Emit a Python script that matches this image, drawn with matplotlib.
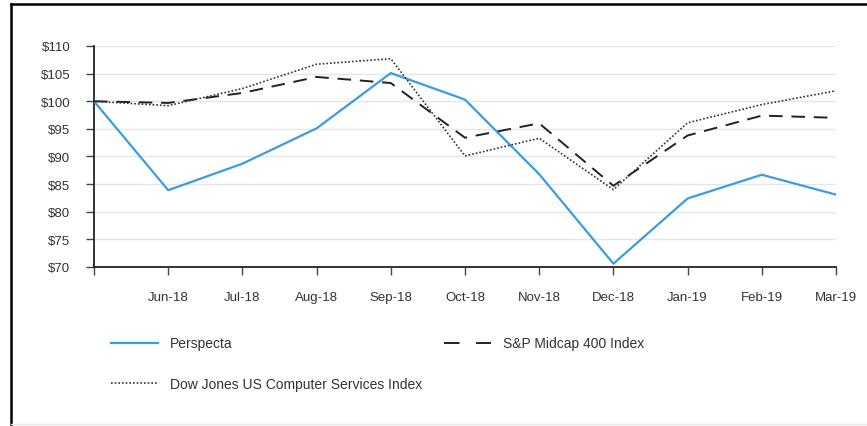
import matplotlib
matplotlib.use("Agg")
import matplotlib.pyplot as plt
from matplotlib.lines import Line2D

plt.rcParams['font.family'] = ['Liberation Sans', 'DejaVu Sans']

months = ["May-18", "Jun-18", "Jul-18", "Aug-18", "Sep-18", "Oct-18",
          "Nov-18", "Dec-18", "Jan-19", "Feb-19", "Mar-19"]
tick_labels = [""] + months[1:]
perspecta = [100, 83.9, 88.7, 95.1, 105.1, 100.3, 86.8, 70.6, 82.4, 86.7, 83.1]
sp_midcap = [100, 99.7, 101.5, 104.4, 103.3, 93.4, 96.0, 84.7, 93.8, 97.4, 97.0]
dow_jones = [100, 99.2, 102.3, 106.7, 107.7, 90.1, 93.3, 84.0, 96.1, 99.4, 101.9]
y_ticks = [70, 75, 80, 85, 90, 95, 100, 105, 110]

W, H = 867, 427
fig = plt.figure(figsize=(W / 100, H / 100), dpi=100)
ax = fig.add_axes([94 / W, (H - 268) / H, (836 - 94) / W, (268 - 47) / H])

x = list(range(len(months)))
ax.plot(x, perspecta, color="#3d9be0", lw=1.6, label="Perspecta", zorder=3)
ax.plot(x, sp_midcap, color="#222222", lw=1.4, dashes=(7, 4.5), label="S&P Midcap 400 Index", zorder=3)
ax.plot(x, dow_jones, color="#333333", lw=1.2, dashes=(1, 1.2), label="Dow Jones US Computer Services Index", zorder=3)

ax.set_xlim(0, len(months) - 1)
ax.set_ylim(70, 110)
ax.set_yticks(y_ticks)
ax.set_yticklabels([f"${v}" for v in y_ticks])
ax.set_xticks(x)
ax.set_xticklabels(tick_labels)
ax.grid(axis="y", color="#e6e6e6", lw=1.0, zorder=0)
for s in ["top", "right"]:
    ax.spines[s].set_visible(False)
for s in ["left", "bottom"]:
    ax.spines[s].set_color("#222222")
    ax.spines[s].set_linewidth(1.3)
ax.tick_params(axis="y", length=6, width=1.0, color="#444444", labelsize=9.5, labelcolor="#333333", pad=11)
ax.tick_params(axis="x", length=6, width=1.0, color="#444444", labelsize=9.5, labelcolor="#333333", pad=11)

h, l = ax.get_legend_handles_labels()
order = [0, 2, 1]
leg = fig.legend([h[i] for i in order], [l[i] for i in order], ncol=2,
                 loc="upper left", bbox_to_anchor=(98 / W, 1 - 325 / H),
                 frameon=False, fontsize=10, handlelength=3.4, handletextpad=0.85,
                 columnspacing=1.6, labelspacing=1.9, labelcolor="#333333")
# legend dashed handle: two long dashes as in the reference
leg.legend_handles[2].set_dashes((8, 8.5))

# outer frame
fig.add_artist(Line2D([11 / W, 1], [1 - 5 / H, 1 - 5 / H], color="black", lw=1.8, transform=fig.transFigure))
fig.add_artist(Line2D([11 / W, 11 / W], [0, 1 - 5 / H], color="black", lw=1.8, transform=fig.transFigure))
fig.add_artist(Line2D([11 / W, 1], [2 / H, 2 / H], color="#e8e8e8", lw=1.0, transform=fig.transFigure))

fig.savefig("out.png", dpi=100)
